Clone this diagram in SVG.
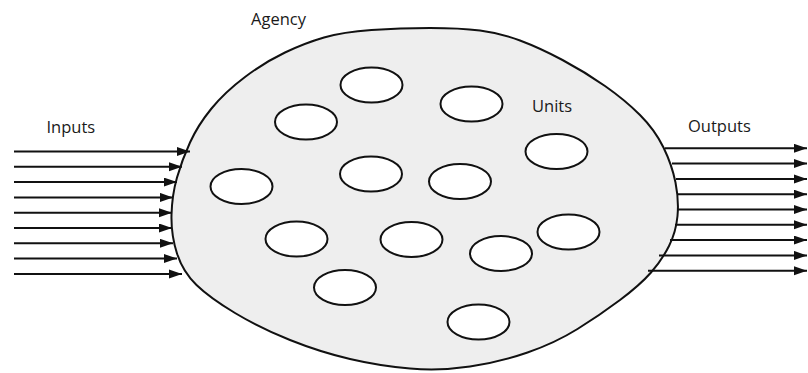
<svg xmlns="http://www.w3.org/2000/svg" width="808" height="373" viewBox="0 0 808 373">
<style>
.lbl{font-family:"Open Sans","Noto Sans",sans-serif;font-size:16.5px;fill:#1a1a1a}
.unit{fill:#ffffff;stroke:#111;stroke-width:2}
.arr{stroke:#111;stroke-width:2;fill:none}
</style>
<defs>
<marker id="ah" markerUnits="userSpaceOnUse" markerWidth="14" markerHeight="10" refX="13" refY="4.5" orient="auto">
<path d="M0,0 L13,4.5 L0,9 z" fill="#111"/>
</marker>
</defs>
<rect width="808" height="373" fill="#ffffff"/>
<g id="agency">
<path d="M324,37.5 Q343,32 371.5,30 Q400,28 430,28 Q460,28 480,30.5 Q500,33 520,40.5 Q540,48 562.5,60 Q585,72 605,86 Q625,100 640,115 Q655,130 663.5,147.5 Q672,165 675.5,182.5 Q679,200 677.5,216 Q676,232 669,246 Q662,260 651,272.5 Q640,285 620,300 Q600,315 577.5,329 Q555,343 527.5,352.5 Q500,362 470,366.5 Q440,371 410,368.5 Q380,366 350,359 Q320,352 290,340 Q260,328 235,313 Q210,298 196.5,285 Q183,272 177,253.5 Q171,235 171.5,215 Q172,195 177,177.5 Q182,160 190,142.5 Q198,125 211.5,108.5 Q225,92 245,77 Q265,62 285,52.5 Q305,43 324,37.5 Z" fill="#eeeeee" stroke="#111" stroke-width="2"/>
<text class="lbl" x="251" y="25">Agency</text>
</g>
<g id="units">
<ellipse class="unit" cx="371.5" cy="85" rx="31" ry="17.5"/>
<ellipse class="unit" cx="471.5" cy="104" rx="31" ry="17.5"/>
<ellipse class="unit" cx="306" cy="122" rx="31" ry="17.5"/>
<ellipse class="unit" cx="556.5" cy="151.5" rx="31" ry="17.5"/>
<ellipse class="unit" cx="241.5" cy="186.5" rx="31" ry="17.5"/>
<ellipse class="unit" cx="371" cy="174" rx="31" ry="17.5"/>
<ellipse class="unit" cx="460" cy="181.5" rx="31" ry="17.5"/>
<ellipse class="unit" cx="568.5" cy="232" rx="31" ry="17.5"/>
<ellipse class="unit" cx="296.5" cy="239" rx="31" ry="17.5"/>
<ellipse class="unit" cx="411.5" cy="239.5" rx="31" ry="17.5"/>
<ellipse class="unit" cx="501" cy="253.5" rx="31" ry="17.5"/>
<ellipse class="unit" cx="345" cy="287.5" rx="31" ry="17.5"/>
<ellipse class="unit" cx="478.5" cy="322" rx="31" ry="17.5"/>
<text class="lbl" x="532" y="111.5">Units</text>
</g>
<g id="inputs">
<text class="lbl" x="46.5" y="133">Inputs</text>
</g>
<g id="outputs">
<text class="lbl" x="688" y="131.5">Outputs</text>
</g>
<g id="connectors">
<line class="arr" x1="14" y1="151.5" x2="190" y2="151.5" marker-end="url(#ah)"/>
<line class="arr" x1="14" y1="166.8" x2="182" y2="166.8" marker-end="url(#ah)"/>
<line class="arr" x1="14" y1="182.1" x2="177" y2="182.1" marker-end="url(#ah)"/>
<line class="arr" x1="14" y1="197.4" x2="173" y2="197.4" marker-end="url(#ah)"/>
<line class="arr" x1="14" y1="212.7" x2="172" y2="212.7" marker-end="url(#ah)"/>
<line class="arr" x1="14" y1="228" x2="172" y2="228" marker-end="url(#ah)"/>
<line class="arr" x1="14" y1="243.3" x2="173" y2="243.3" marker-end="url(#ah)"/>
<line class="arr" x1="14" y1="258.6" x2="177" y2="258.6" marker-end="url(#ah)"/>
<line class="arr" x1="14" y1="273.9" x2="182" y2="273.9" marker-end="url(#ah)"/>
<line class="arr" x1="665" y1="148.3" x2="807" y2="148.3" marker-end="url(#ah)"/>
<line class="arr" x1="672" y1="163.6" x2="807" y2="163.6" marker-end="url(#ah)"/>
<line class="arr" x1="676" y1="178.9" x2="807" y2="178.9" marker-end="url(#ah)"/>
<line class="arr" x1="677" y1="194.2" x2="807" y2="194.2" marker-end="url(#ah)"/>
<line class="arr" x1="677" y1="209.5" x2="807" y2="209.5" marker-end="url(#ah)"/>
<line class="arr" x1="675" y1="224.8" x2="807" y2="224.8" marker-end="url(#ah)"/>
<line class="arr" x1="670" y1="240.1" x2="807" y2="240.1" marker-end="url(#ah)"/>
<line class="arr" x1="659" y1="255.4" x2="807" y2="255.4" marker-end="url(#ah)"/>
<line class="arr" x1="648" y1="270.7" x2="807" y2="270.7" marker-end="url(#ah)"/>
</g>
</svg>
